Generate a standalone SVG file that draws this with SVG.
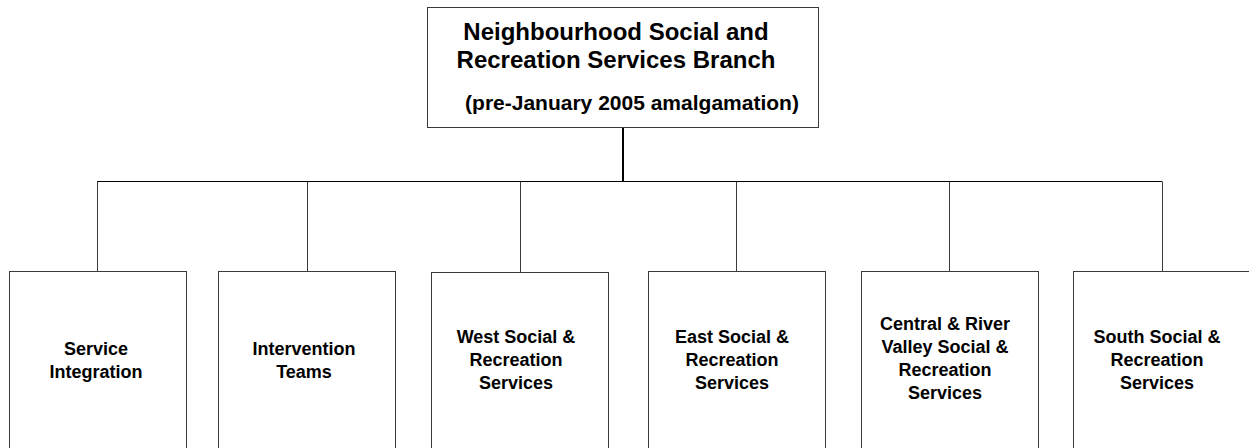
<svg xmlns="http://www.w3.org/2000/svg" width="1249" height="448" viewBox="0 0 1249 448">
<style>
.box{fill:#fff;stroke:#3a3a3a;stroke-width:1}
.c{stroke:#3a3a3a;stroke-width:1;fill:none}
.t{font-family:"Liberation Sans",Arial,sans-serif;font-weight:bold;fill:#000;text-anchor:middle}
.h{font-size:24px}
.h3{font-size:21px}
.s{font-size:18px}
</style>
<rect width="1249" height="448" fill="#fff"/>
<g id="connectors">
<line class="c" x1="623" y1="128" x2="623" y2="181.5" style="stroke:#000;stroke-width:2"/>
<line class="c" x1="97" y1="181.5" x2="1162" y2="181.5" style="stroke:#000"/>
<line class="c" x1="97.5" y1="181.5" x2="97.5" y2="271"/>
<line class="c" x1="307.5" y1="181.5" x2="307.5" y2="271"/>
<line class="c" x1="520.5" y1="181.5" x2="520.5" y2="272"/>
<line class="c" x1="736.5" y1="181.5" x2="736.5" y2="271"/>
<line class="c" x1="949.5" y1="181.5" x2="949.5" y2="271"/>
<line class="c" x1="1162.5" y1="181.5" x2="1162.5" y2="271"/>
</g>
<g id="root">
<rect class="box" x="427.5" y="7.5" width="391" height="120"/>
<text class="t h" x="616" y="40">Neighbourhood Social and</text>
<text class="t h" x="616" y="68">Recreation Services Branch</text>
<text class="t h3" x="632" y="110">(pre-January 2005 amalgamation)</text>
</g>
<g id="service-integration">
<rect class="box" x="9.5" y="271.5" width="177" height="190"/>
<text class="t s" x="96" y="355">Service</text>
<text class="t s" x="96" y="378">Integration</text>
</g>
<g id="intervention-teams">
<rect class="box" x="218.5" y="271.5" width="177" height="190"/>
<text class="t s" x="304" y="355">Intervention</text>
<text class="t s" x="304" y="378">Teams</text>
</g>
<g id="west">
<rect class="box" x="431.5" y="272.5" width="177" height="190"/>
<text class="t s" x="516" y="343">West Social &amp;</text>
<text class="t s" x="516" y="366">Recreation</text>
<text class="t s" x="516" y="389">Services</text>
</g>
<g id="east">
<rect class="box" x="648.5" y="271.5" width="177" height="190"/>
<text class="t s" x="732" y="343">East Social &amp;</text>
<text class="t s" x="732" y="366">Recreation</text>
<text class="t s" x="732" y="389">Services</text>
</g>
<g id="central">
<rect class="box" x="861.5" y="271.5" width="177" height="190"/>
<text class="t s" x="945" y="330">Central &amp; River</text>
<text class="t s" x="945" y="353">Valley Social &amp;</text>
<text class="t s" x="945" y="376">Recreation</text>
<text class="t s" x="945" y="399">Services</text>
</g>
<g id="south">
<rect class="box" x="1073.5" y="271.5" width="177" height="190"/>
<text class="t s" x="1157" y="343">South Social &amp;</text>
<text class="t s" x="1157" y="366">Recreation</text>
<text class="t s" x="1157" y="389">Services</text>
</g>
</svg>
